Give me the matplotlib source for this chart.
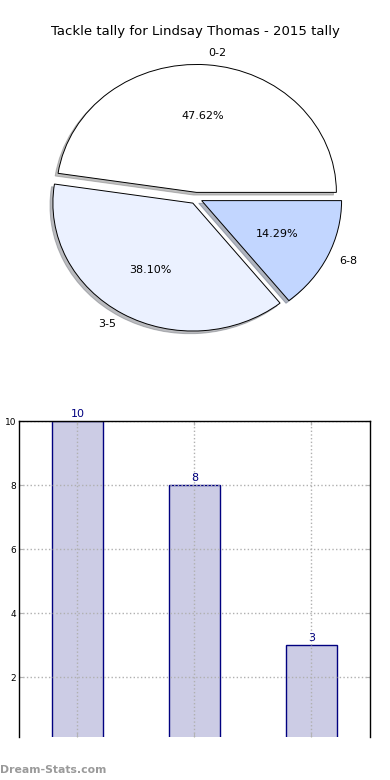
import numpy as np
import matplotlib
matplotlib.use('Agg')
from matplotlib import pyplot as plt

# data
tally_labels = ['0-2', '3-5', '6-8']
tally_counts = [10, 8, 3]
pie_colors = ['#FFFFFF', '#EBF1FF', '#C2D6FF']
title = 'Tackle tally for Lindsay Thomas - 2015 tally'

fig = plt.figure(figsize=(3.9, 7.8), dpi=100)

# pie part
ax1 = fig.add_axes([0.054, 0.541, 0.897, 0.410])
wedges, texts, autotexts = ax1.pie(tally_counts, labels=tally_labels, colors=pie_colors,
                                   explode=[0.045, 0.045, 0.045], autopct='%.2f%%',
                                   shadow={'ox': -0.015, 'oy': -0.015, 'shade': 0.5},
                                   startangle=0, labeldistance=1.09,
                                   pctdistance=0.6,
                                   wedgeprops={'edgecolor': 'black', 'linewidth': 0.7},
                                   textprops={'fontsize': 8})
ax1.set_aspect('auto')
ax1.set_xlim(-1.25, 1.25)
ax1.set_ylim(-1.25, 1.25)
fig.text(0.5, 1 - 31 / 780, title, ha='center', va='center', fontsize=9.5)

# bar part
ax2 = fig.add_axes([0.0487, 0.0551, 0.9, 0.4051])
x = np.arange(len(tally_counts))
bars = ax2.bar(x, tally_counts, width=0.44, color='#CCCCE5', edgecolor='navy', linewidth=1)
ax2.bar_label(bars, padding=1.5, color='navy', fontsize=8)
ax2.set_xlim(-0.5, 2.5)
ax2.set_ylim(0.125, 10)
ax2.set_xticks(x)
ax2.set_xticklabels(['', '', ''])
ax2.set_yticks([2, 4, 6, 8, 10])
ax2.tick_params(direction='in', length=3, color='0.7', labelsize=6.5, right=True, top=True,
                pad=2)
ax2.grid(True, linestyle=':', color='#b0b0b0', linewidth=1)
ax2.set_axisbelow(False)
ax2.spines['bottom'].set_visible(False)
for s in ['left', 'top', 'right']:
    ax2.spines[s].set_linewidth(1)
    ax2.spines[s].set_zorder(5)
fig.text(-0.008, 0.256, 'Tackle Count', rotation=90, ha='center', va='center', fontsize=8)

fig.text(0.0, 1 - 770 / 780, 'Dream-Stats.com', ha='left', va='center', fontsize=7.8,
         color='#9a9a9a', fontweight='bold')

fig.savefig('out.png', dpi=100)
